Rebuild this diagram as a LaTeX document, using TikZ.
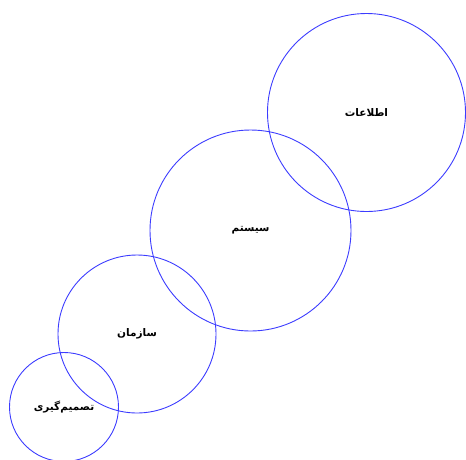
\documentclass[tikz,border=0pt]{standalone}
\usepackage{fontspec}
\newfontfamily\arabicfont[Script=Arabic]{DejaVu Sans Bold}
\TeXXeTstate=1
\begin{document}
\begin{tikzpicture}[x=1pt,y=-1pt,
  ring/.style={circle,draw={rgb,255:red,60;green,60;blue,255},line width=0.9pt,inner sep=0pt,
    font=\arabicfont\fontsize{10.5}{12}\selectfont}]
\useasboundingbox (0,0) rectangle (466,459);
\node[ring,minimum size=198pt] (info) at (366.5,112.5) {\beginR اطلاعات\endR};
\node[ring,minimum size=201pt] (sys) at (250.5,230.5) {\beginR سیستم\endR};
\node[ring,minimum size=158pt] (org) at (137,334) {\beginR سازمان\endR};
\node[ring,minimum size=109pt] (dec) at (64,407) {\beginR تصمیم‌گیری\endR};
\end{tikzpicture}
\end{document}
